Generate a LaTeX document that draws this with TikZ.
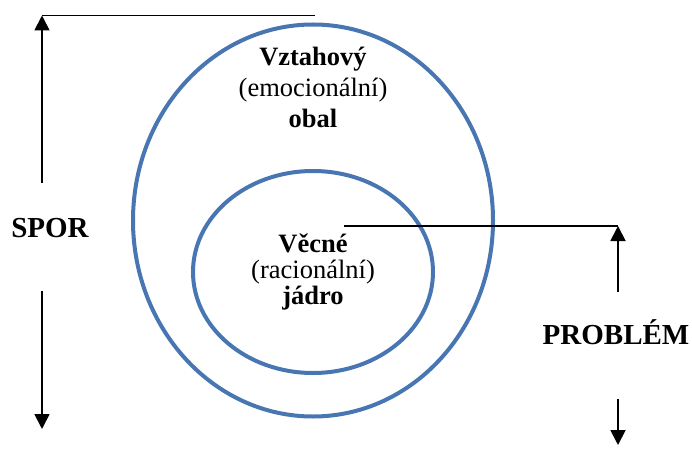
\documentclass[tikz,border=0pt]{standalone}
\usepackage{fontspec}
\setmainfont{Liberation Serif}
\usetikzlibrary{shapes.geometric,arrows.meta}
\definecolor{ringblue}{RGB}{72,118,178}

\begin{document}
\begin{tikzpicture}[x=1pt,y=-1pt,
  ring/.style={draw=ringblue,line width=4pt,ellipse,inner sep=0pt},
  rule/.style={line width=1.5pt},
  arr/.style={line width=1.8pt,-{Triangle[length=15pt,width=15pt]}},
  body/.style={anchor=base,inner sep=0pt,font=\fontsize{26.5}{30}\selectfont},
  lbl/.style={anchor=base,inner sep=0pt,font=\fontsize{29}{32}\selectfont\bfseries}]
  \useasboundingbox (0,0) rectangle (692,462);
  % rings
  \node[ring,minimum width=360pt,minimum height=392pt] (obal) at (313,220.5) {};
  \node[ring,minimum width=240pt,minimum height=202pt] (jadro) at (313,272) {};
  % outer text
  \node[body] (vztah) at (313,66) {\textbf{Vztahový}};
  \node[body] (emoc) at (313,97) {(emocionální)};
  \node[body] (obaltxt) at (313,127.5) {\textbf{obal}};
  % inner text
  \node[body] (vecne) at (313,252) {\textbf{Věcné}};
  \node[body] (racio) at (313,278.5) {(racionální)};
  \node[body] (jadrotxt) at (313,304.5) {\textbf{jádro}};
  % labels
  \node[lbl] (spor) at (50,237.5) {SPOR};
  \node[lbl] (problem) at (616,344) {PROBLÉM};
  % left bracket
  \coordinate (sporTop) at (42,15.5);
  \coordinate (sporEnd) at (315,15.5);
  \coordinate (sporUp) at (42,183);
  \coordinate (sporDown) at (42,291);
  \coordinate (sporBot) at (42,429);
  \draw[rule] (sporTop) -- (sporEnd);
  \draw[arr] (sporUp) -- (sporTop);
  \draw[arr] (sporDown) -- (sporBot);
  % right bracket
  \coordinate (probStart) at (344,226);
  \coordinate (probTop) at (618,226);
  \coordinate (probUp) at (618,291.5);
  \coordinate (probDown) at (618,399);
  \coordinate (probBot) at (618,445);
  \draw[line width=1.2pt] (probStart) -- (probTop);
  \draw[arr] (probUp) -- (probTop);
  \draw[arr] (probDown) -- (probBot);
\end{tikzpicture}
\end{document}
